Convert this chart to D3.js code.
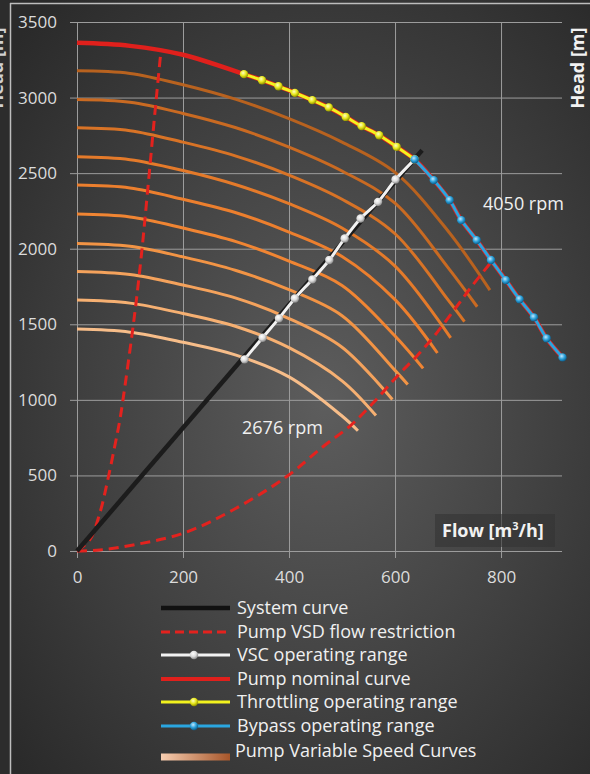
<!DOCTYPE html>
<html>
<head>
<meta charset="utf-8">
<script src="https://cdnjs.cloudflare.com/ajax/libs/d3/7.8.5/d3.min.js"></script>
<style>
  body { margin: 0; background: #2e2e2e; }
  svg { display: block; font-family: 'Open Sans', sans-serif; }
</style>
</head>
<body>
<div id="chart"></div>
<script>
const margin = {
  left: 77,
  right: 28,
  top: 22,
  bottom: 223,
};
const width = 590;
const height = 774;
const chartWidth = width - margin.left - margin.right;
const chartHeight = height - margin.top - margin.bottom;

// Axis ticks
const flowTicks = [0, 200, 400, 600, 800];
const headTicks = [0, 500, 1000, 1500, 2000, 2500, 3000, 3500];

// Pump nominal curve (4050 rpm)
const nominalFlow = [0, 100, 200, 315, 349, 380, 411, 444, 475, 507, 537, 570, 603, 637,
  673, 703, 725, 754, 781, 809, 835, 862, 886, 916];
const nominalHead = [3362, 3342, 3283, 3155, 3115, 3075, 3031, 2983, 2935, 2872, 2811, 2751, 2674, 2591,
  2454, 2321, 2189, 2057, 1925, 1792, 1665, 1546, 1407, 1281];

// Throttling operating range
const throttleFlow = [315, 349, 380, 411, 444, 475, 507, 537, 570, 603, 637];
const throttleHead = [3155, 3115, 3075, 3031, 2983, 2935, 2872, 2811, 2751, 2674, 2591];

// Bypass operating range
const bypassFlow = [637, 673, 703, 725, 754, 781, 809, 835, 862, 886, 916];
const bypassHead = [2591, 2454, 2321, 2189, 2057, 1925, 1792, 1665, 1546, 1407, 1281];

// VSC operating range
const vscFlow = [316, 350, 381, 411, 444, 476, 505, 535, 568, 601, 637];
const vscHead = [1268, 1411, 1539, 1671, 1797, 1925, 2068, 2200, 2310, 2458, 2591];

// System curve
const systemFlow = [0, 651];
const systemHead = [0, 2652];

// Pump VSD flow restriction (min and max flow)
const minFlowQ = [0, 24, 43, 58, 71, 81, 90, 103, 112, 122, 131, 147, 158];
const minFlowH = [0, 73, 250, 470, 690, 870, 1080, 1410, 1660, 1975, 2300, 2900, 3296];
const maxFlowQ = [0, 43, 106, 200, 294, 395, 464, 515, 558, 609, 640, 678, 716, 744, 781];
const maxFlowH = [0, 7, 40, 117, 271, 491, 690, 827, 977, 1175, 1285, 1440, 1616, 1748, 1910];

// Pump variable speed curves, highest to lowest speed
const speedFlows = [
  [0, 100, 200, 300, 400, 500, 600, 700, 779],
  [0, 100, 200, 300, 400, 500, 600, 700, 755],
  [0, 100, 200, 300, 400, 500, 600, 700, 731],
  [0, 100, 200, 300, 400, 500, 600, 705],
  [0, 100, 200, 300, 400, 500, 600, 680],
  [0, 100, 200, 300, 400, 500, 600, 653],
  [0, 100, 200, 300, 400, 500, 600, 624],
  [0, 100, 200, 300, 400, 500, 595],
  [0, 100, 200, 300, 400, 500, 564],
  [0, 100, 200, 300, 400, 500, 530],
];
const speedHeads = [
  [3177, 3160, 3085, 2988, 2860, 2705, 2505, 2117, 1726],
  [2987, 2969, 2895, 2800, 2672, 2514, 2301, 1875, 1616],
  [2800, 2781, 2705, 2613, 2487, 2327, 2099, 1661, 1517],
  [2608, 2589, 2517, 2423, 2298, 2137, 1885, 1410],
  [2421, 2402, 2327, 2238, 2110, 1949, 1663, 1310],
  [2229, 2210, 2137, 2047, 1918, 1757, 1422, 1208],
  [2035, 2016, 1946, 1856, 1729, 1557, 1195, 1102],
  [1850, 1830, 1760, 1673, 1538, 1348, 1002],
  [1660, 1640, 1571, 1485, 1345, 1126, 896],
  [1468, 1448, 1381, 1296, 1152, 893, 796],
];
const speedColors = ['#b8621f', '#c96a22', '#d87326', '#e47a2a', '#ec7f2e',
  '#f08533', '#f29445', '#f4a25c', '#f6b072', '#f7bd89'];

const legendLabels = ['System curve', 'Pump VSD flow restriction', 'VSC operating range',
  'Pump nominal curve', 'Throttling operating range', 'Bypass operating range',
  'Pump Variable Speed Curves'];

function pts(qs, hs) {
  return qs.map(function (q, i) { return [q, hs[i]]; });
}

// Scales
var x = d3.scaleLinear()
  .domain([0, 915])
  .range([0, chartWidth]);

var y = d3.scaleLinear()
  .domain([0, 3500])
  .range([chartHeight, 0]);

// Create SVG
var svg = d3.select('#chart')
  .append('svg')
  .attr('width', width)
  .attr('height', height);

var defs = svg.append('defs');

var bg = defs.append('radialGradient')
  .attr('id', 'bg')
  .attr('cx', '55%').attr('cy', '52%').attr('r', '70%');
bg.append('stop').attr('offset', '0%').attr('stop-color', '#5d5d5d');
bg.append('stop').attr('offset', '100%').attr('stop-color', '#2a2a2a');

function markerGradient(id, c0, c1, c2) {
  var g = defs.append('radialGradient')
    .attr('id', id)
    .attr('cx', '40%').attr('cy', '35%').attr('r', '65%');
  g.append('stop').attr('offset', '0%').attr('stop-color', c0);
  g.append('stop').attr('offset', '55%').attr('stop-color', c1);
  g.append('stop').attr('offset', '100%').attr('stop-color', c2);
}
markerGradient('mkYellow', '#ffffc0', '#e6e61a', '#8f8f00');
markerGradient('mkWhite', '#ffffff', '#dcdcdc', '#8a8a8a');
markerGradient('mkBlue', '#bfe8ff', '#2a9fd8', '#0d5a85');

var lg = defs.append('linearGradient').attr('id', 'speedGrad');
lg.append('stop').attr('offset', '0%').attr('stop-color', '#f6cdb0');
lg.append('stop').attr('offset', '100%').attr('stop-color', '#a7562a');

// Background + frame
svg.append('rect')
  .attr('width', width)
  .attr('height', height)
  .attr('fill', 'url(#bg)');

svg.append('rect')
  .attr('width', 10)
  .attr('height', height)
  .attr('fill', '#2c2c2c');

svg.append('line')
  .attr('x1', 10.5).attr('x2', 10.5).attr('y1', 3).attr('y2', height)
  .attr('stroke', '#bdbdbd').attr('stroke-width', 1.5);
svg.append('line')
  .attr('x1', 10).attr('x2', width).attr('y1', 3.5).attr('y2', 3.5)
  .attr('stroke', '#bdbdbd').attr('stroke-width', 1.5);

// Left title of the neighbouring panel, mostly outside the picture
svg.append('text')
  .attr('transform', 'translate(3,68) rotate(-90)')
  .attr('text-anchor', 'middle')
  .attr('font-size', '18px')
  .attr('font-weight', 'bold')
  .attr('fill', '#d0d0d0')
  .text('Head [m]');

// Axis / grid
var axisY = d3.axisLeft(y)
  .tickValues(headTicks)
  .tickFormat(d3.format('d'))
  .tickSize(-(chartWidth + 7))
  .tickPadding(13);

var axisX = d3.axisBottom(x)
  .tickValues(flowTicks)
  .tickFormat(d3.format('d'))
  .tickSize(-(chartHeight + 7))
  .tickPadding(13);

var gy = svg.append('g')
  .attr('transform', 'translate(' + (margin.left - 7) + ',' + margin.top + ')')
  .call(axisY);

var gx = svg.append('g')
  .attr('transform', 'translate(' + margin.left + ',' + (margin.top + chartHeight + 7) + ')')
  .call(axisX);

[gx, gy].forEach(function (g) {
  g.select('.domain').remove();
  g.selectAll('.tick line')
    .attr('stroke', '#9c9c9c')
    .attr('stroke-width', 1);
  g.selectAll('.tick text')
    .attr('fill', '#dcdcdc')
    .attr('font-size', '17px')
    .attr('font-family', "'Open Sans', sans-serif");
});

// Plot group
var group = svg.append('g')
  .attr('transform', 'translate(' + margin.left + ', ' + margin.top + ')');

var line = d3.line()
  .x(function (d) { return x(d[0]); })
  .y(function (d) { return y(d[1]); })
  .curve(d3.curveCatmullRom.alpha(0.5));

// Variable speed curves
group.selectAll('.speed')
  .data(speedFlows)
  .enter()
  .append('path')
  .attr('class', 'speed')
  .attr('d', function (d, i) { return line(pts(d, speedHeads[i])); })
  .attr('fill', 'none')
  .attr('stroke', function (d, i) { return speedColors[i]; })
  .attr('stroke-width', 3);

// Flow restriction
[pts(minFlowQ, minFlowH), pts(maxFlowQ, maxFlowH)].forEach(function (p) {
  group.append('path')
    .attr('d', line(p))
    .attr('fill', 'none')
    .attr('stroke', '#e3221e')
    .attr('stroke-width', 3)
    .attr('stroke-dasharray', '10,6');
});

// System curve
group.append('path')
  .attr('d', line(pts(systemFlow, systemHead)))
  .attr('fill', 'none')
  .attr('stroke', '#1c1c1c')
  .attr('stroke-width', 4.5);

function markedLine(qs, hs, color, grad) {
  var p = pts(qs, hs);
  group.append('path')
    .attr('d', line(p))
    .attr('fill', 'none')
    .attr('stroke', color)
    .attr('stroke-width', 3);
  group.append('g')
    .selectAll('circle')
    .data(p)
    .enter()
    .append('circle')
    .attr('cx', function (d) { return x(d[0]); })
    .attr('cy', function (d) { return y(d[1]); })
    .attr('r', 4.2)
    .attr('fill', 'url(#' + grad + ')');
}

markedLine(vscFlow, vscHead, '#f2f2f2', 'mkWhite');

// Nominal curve
group.append('path')
  .attr('d', line(pts(nominalFlow, nominalHead)))
  .attr('fill', 'none')
  .attr('stroke', '#e0201c')
  .attr('stroke-width', 4.5);

markedLine(throttleFlow, throttleHead, '#f2f21e', 'mkYellow');
markedLine(bypassFlow, bypassHead, '#2aa6e0', 'mkBlue');

// Speed labels
svg.append('text')
  .attr('x', 483).attr('y', 210)
  .attr('font-size', '18px').attr('fill', '#f0f0f0')
  .text('4050 rpm');
svg.append('text')
  .attr('x', 242).attr('y', 434)
  .attr('font-size', '18px').attr('fill', '#f0f0f0')
  .text('2676 rpm');

// Axis titles
svg.append('rect')
  .attr('x', 435).attr('y', 514).attr('width', 120).attr('height', 33)
  .attr('fill', '#333333').attr('opacity', 0.6);
svg.append('text')
  .attr('x', 442).attr('y', 537)
  .attr('font-size', '18px').attr('font-weight', 'bold').attr('fill', '#f2f2f2')
  .text('Flow [m')
  .append('tspan').attr('font-size', '11px').attr('dy', -7).text('3')
  .select(function () { return this.parentNode; })
  .append('tspan').attr('dy', 7).text('/h]');

svg.append('text')
  .attr('transform', 'translate(584,68) rotate(-90)')
  .attr('text-anchor', 'middle')
  .attr('font-size', '18px')
  .attr('font-weight', 'bold')
  .attr('fill', '#f2f2f2')
  .text('Head [m]');

// Legend
var legendY = [608, 632, 655, 679, 702, 726, 757];
var legend = svg.append('g');

legendLabels.forEach(function (label, i) {
  var ly = legendY[i];
  if (i === 0) {
    legend.append('line').attr('x1', 161).attr('x2', 230).attr('y1', ly).attr('y2', ly)
      .attr('stroke', '#111').attr('stroke-width', 4.5);
  } else if (i === 1) {
    legend.append('line').attr('x1', 161).attr('x2', 230).attr('y1', ly).attr('y2', ly)
      .attr('stroke', '#e3221e').attr('stroke-width', 3).attr('stroke-dasharray', '9,5');
  } else if (i === 3) {
    legend.append('line').attr('x1', 161).attr('x2', 230).attr('y1', ly).attr('y2', ly)
      .attr('stroke', '#e0201c').attr('stroke-width', 4);
  } else if (i === 6) {
    legend.append('rect').attr('x', 161).attr('y', ly - 3.5).attr('width', 69).attr('height', 7)
      .attr('fill', 'url(#speedGrad)');
  } else {
    var c = { 2: ['#f2f2f2', 'mkWhite'], 4: ['#f2f21e', 'mkYellow'], 5: ['#2aa6e0', 'mkBlue'] }[i];
    legend.append('line').attr('x1', 161).attr('x2', 230).attr('y1', ly).attr('y2', ly)
      .attr('stroke', c[0]).attr('stroke-width', 3);
    legend.append('circle').attr('cx', 194).attr('cy', ly).attr('r', 4.2)
      .attr('fill', 'url(#' + c[1] + ')');
  }
  legend.append('text')
    .attr('x', i === 6 ? 235 : 237)
    .attr('y', (i === 6 ? 751 : ly) + 6)
    .attr('font-size', '18px')
    .attr('fill', '#f0f0f0')
    .text(label);
});
</script>
</body>
</html>
